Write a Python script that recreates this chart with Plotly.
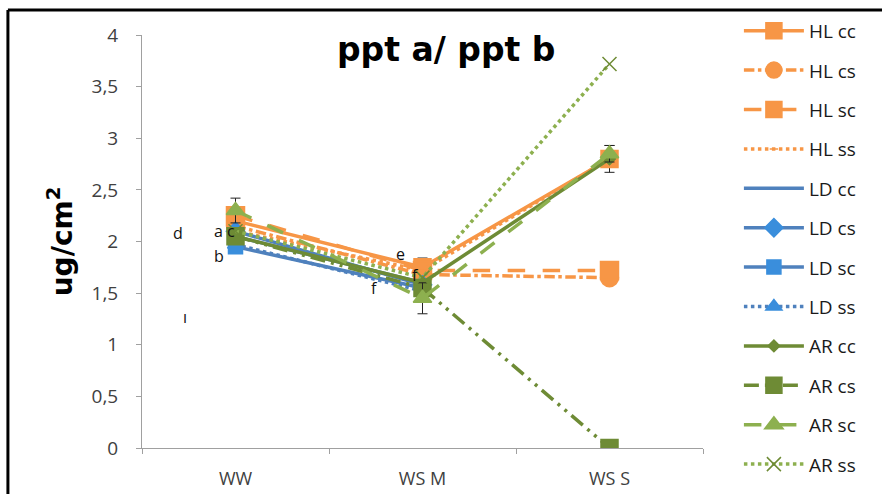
import plotly.graph_objects as go

categories = ["WW", "WS M", "WS S"]

series_names = ["HL cc", "HL cs", "HL sc", "HL ss",
                "LD cc", "LD cs", "LD sc", "LD ss",
                "AR cc", "AR cs", "AR sc", "AR ss"]

hl_cc = [2.20, 1.75, 2.80]
hl_cs = [2.15, 1.68, 1.65]
hl_sc = [2.25, 1.72, 1.72]
hl_ss = [2.10, 1.72, 2.80]
ld_cc = [2.05, 1.60, None]
ld_cs = [2.10, 1.58, None]
ld_sc = [1.95, 1.55, None]
ld_ss = [1.97, 1.52, None]
ar_cc = [2.05, 1.60, 2.80]
ar_cs = [2.05, 1.55, 0.00]
ar_sc = [2.30, 1.45, 2.85]
ar_ss = [2.10, 1.65, 3.72]

err_hl_cc = [0.0, 0.09, 0.13]
err_ar_sc = [0.12, 0.15, 0.08]

ytick_vals = [0, 0.5, 1, 1.5, 2, 2.5, 3, 3.5, 4]

letters = ["d", "a c", "b", "e", "f", "f", "ı"]
letter_x = [-0.31, -0.06, -0.09, 0.88, 0.745, 0.965, -0.27]
letter_y = [2.08, 2.10, 1.86, 1.88, 1.55, 1.68, 1.27]

ORANGE = "#F79646"
BLUE_L = "#4F81BD"
BLUE_M = "#3A8EDC"
GREEN_D = "#6E8B35"
GREEN_L = "#8DB04F"

values = [hl_cc, hl_cs, hl_sc, hl_ss, ld_cc, ld_cs, ld_sc, ld_ss,
          ar_cc, ar_cs, ar_sc, ar_ss]

styles = [
    dict(color=ORANGE, dash="solid", symbol="square", msize=17, mcolor=ORANGE),
    dict(color=ORANGE, dash="dashdot", symbol="circle", msize=18, mcolor=ORANGE),
    dict(color=ORANGE, dash="longdash", symbol="square", msize=18, mcolor=ORANGE),
    dict(color=ORANGE, dash="dot", symbol="line-ew", msize=6, mcolor=ORANGE),
    dict(color=BLUE_L, dash="solid", symbol="line-ew", msize=6, mcolor=BLUE_L),
    dict(color=BLUE_L, dash="solid", symbol="diamond", msize=14, mcolor=BLUE_M),
    dict(color=BLUE_L, dash="solid", symbol="square", msize=14, mcolor=BLUE_M),
    dict(color=BLUE_L, dash="dot", symbol="triangle-up", msize=14, mcolor=BLUE_M),
    dict(color=GREEN_D, dash="solid", symbol="diamond", msize=9, mcolor=GREEN_D),
    dict(color=GREEN_D, dash="15px,6px,3px,6px,3px,6px", symbol="square", msize=17, mcolor=GREEN_D),
    dict(color=GREEN_L, dash="longdash", symbol="triangle-up", msize=16, mcolor=GREEN_L),
    dict(color=GREEN_L, dash="dot", symbol="x-thin", msize=14, mcolor=GREEN_D),
]

errs = {0: err_hl_cc, 10: err_ar_sc}

fig = go.Figure()
for i, (name, vals, st) in enumerate(zip(series_names, values, styles)):
    tr = dict(
        x=categories, y=vals, name=name, mode="lines+markers",
        legendgroup=name,
        line=dict(color=st["color"], width=3.5, dash=st["dash"]),
        marker=dict(symbol=st["symbol"], size=st["msize"], color=st["mcolor"],
                    line=dict(color=st["mcolor"], width=1.5)),
        connectgaps=False,
    )
    if i in errs:
        tr["error_y"] = dict(type="data", array=errs[i], visible=True,
                             color="#222222", thickness=1, width=5)
    fig.add_trace(go.Scatter(**tr))

for t, xv, yv in zip(letters, letter_x, letter_y):
    fig.add_annotation(x=xv, y=yv, xref="x", yref="y", text=t, showarrow=False,
                       font=dict(family="Open Sans", size=16, color="#111111"))

fig.add_annotation(x=0.542, y=0.964, xref="paper", yref="paper",
                   xanchor="center", yanchor="middle",
                   text="<b>ppt a/ ppt b</b>", showarrow=False,
                   font=dict(family="DejaVu Sans", size=33, color="#000000"))

# outer frame (top and left edges)
fig.add_shape(type="line", xref="paper", yref="paper",
              x0=-0.239, x1=1.33, y0=1.0605, y1=1.0605,
              line=dict(color="#000000", width=3))
fig.add_shape(type="line", xref="paper", yref="paper",
              x0=-0.239, x1=-0.239, y0=1.0605, y1=-0.12,
              line=dict(color="#000000", width=3))

fig.update_layout(
    width=882, height=494,
    margin=dict(l=142, r=179, t=35, b=46, autoexpand=False),
    paper_bgcolor="white", plot_bgcolor="white",
    separators=",.",
    showlegend=True,
    legend=dict(x=1.064, y=1.056, xanchor="left", yanchor="top",
                maxheight=494,
                font=dict(family="Open Sans", size=19, color="#1a1a1a"),
                itemwidth=60, tracegroupgap=11.7,
                bgcolor="rgba(0,0,0,0)"),
    font=dict(family="Open Sans", color="#404040"),
    xaxis=dict(type="category", range=[-0.5, 2.5], showgrid=False,
               showline=True, linecolor="#A0A0A0", linewidth=1,
               ticks="outside", tickson="boundaries", ticklen=5, tickcolor="#A0A0A0",
               ticklabelstandoff=14,
               tickfont=dict(family="Open Sans", size=18, color="#404040")),
    yaxis=dict(range=[0, 4], tickvals=ytick_vals, showgrid=False, zeroline=False,
               showline=True, linecolor="#A0A0A0", linewidth=1,
               ticks="outside", ticklen=5, tickcolor="#A0A0A0",
               ticklabelstandoff=14,
               tickfont=dict(family="Open Sans", size=19, color="#404040"),
               title=dict(text="<b>ug/cm<sup>2</sup></b>", standoff=10,
                          font=dict(family="DejaVu Sans", size=28, color="#000000"))),
)

fig.write_html("out.html", config={"displayModeBar": False},
               post_script="document.body.style.margin='0px';")
